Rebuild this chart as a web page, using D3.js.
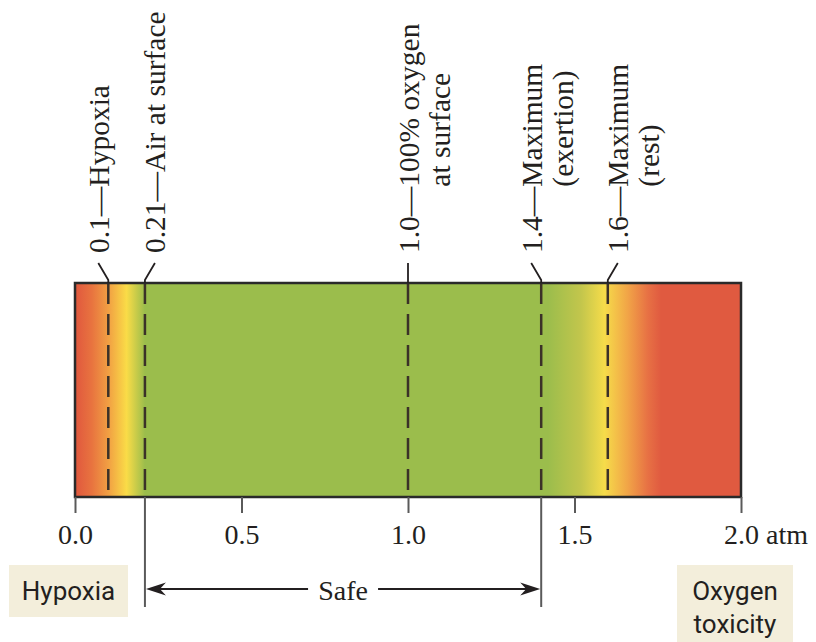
<!DOCTYPE html>
<html>
<head>
<meta charset="utf-8">
<script src="https://cdn.jsdelivr.net/npm/d3@7"></script>
<style>
  html, body { margin: 0; padding: 0; background: #ffffff; }
  svg { display: block; }
</style>
</head>
<body>
<svg id="chart" width="816" height="642"></svg>
<script>
// ---------------- data ----------------
const axisTicks = [0, 0.5, 1.0, 1.5, 2.0];
const axisUnit = "atm";
const markerValues = [0.1, 0.21, 1.0, 1.4, 1.6];
const markerPrefix = ["0.1—", "0.21—", "1.0—", "1.4—", "1.6—"];
const markerLine1 = ["Hypoxia", "Air at surface", "100% oxygen", "Maximum", "Maximum"];
const markerLine2 = ["", "", "at surface", "(exertion)", "(rest)"];
const gradientValues = [0.0, 0.05, 0.10, 0.155, 0.21, 1.42, 1.52, 1.59, 1.66, 1.72, 1.76, 2.0];
const gradientColors = ["#e0573e", "#e8733f", "#f19f43", "#fadc47", "#9bbd4c", "#9bbd4c", "#c3c64c", "#f6dc4a", "#f1a447", "#e77144", "#e05a40", "#e05a40"];
const safeRange = [0.21, 1.4];
const safeLabel = "Safe";
const zoneLeft = ["Hypoxia"];
const zoneRight = ["Oxygen", "toxicity"];

// ---------------- layout ----------------
const svg = d3.select("#chart");
const barTop = 283, barBottom = 497;
const x = d3.scaleLinear().domain([0, 2]).range([75, 741]);
const serif = "'Liberation Serif', 'Times New Roman', serif";
const sans = "Roboto, 'Noto Sans', sans-serif";
const ink = "#231f20";

// gradient
const defs = svg.append("defs");
const grad = defs.append("linearGradient")
  .attr("id", "o2grad")
  .attr("gradientUnits", "userSpaceOnUse")
  .attr("x1", x(0)).attr("x2", x(2)).attr("y1", 0).attr("y2", 0);
grad.selectAll("stop").data(gradientValues).join("stop")
  .attr("offset", d => (x(d) - x(0)) / (x(2) - x(0)))
  .attr("stop-color", (d, i) => gradientColors[i]);

// bar
svg.append("rect")
  .attr("x", x(0)).attr("y", barTop)
  .attr("width", x(2) - x(0)).attr("height", barBottom - barTop)
  .attr("fill", "url(#o2grad)");

// dashed marker lines
svg.append("g").selectAll("line").data(markerValues).join("line")
  .attr("x1", d => x(d)).attr("x2", d => x(d))
  .attr("y1", barTop).attr("y2", barBottom)
  .attr("stroke", "#3b3128").attr("stroke-width", 2.5)
  .attr("stroke-dasharray", "21,10");

// bar border
svg.append("rect")
  .attr("x", x(0)).attr("y", barTop)
  .attr("width", x(2) - x(0)).attr("height", barBottom - barTop)
  .attr("fill", "none").attr("stroke", "#2a2a2a").attr("stroke-width", 2.5);

// leaders and rotated labels
const leaderDir = [-1, 1, 0, -1, 1];
const labelSize = 29.5;
const labelBottom = 253;
const leaderTop = 263;
const g = svg.append("g");
markerValues.forEach((v, i) => {
  const x0 = x(v);
  const xt = x0 + leaderDir[i] * 10;
  g.append("path")
    .attr("d", `M${x0},${barTop} L${x0},${barTop - 3} L${xt},${leaderTop}`)
    .attr("fill", "none").attr("stroke", ink).attr("stroke-width", 1.8);
  const bx = xt + 10.5;
  const t = g.append("text")
    .attr("transform", `translate(${bx},${labelBottom}) rotate(-90)`)
    .attr("font-family", serif).attr("font-size", labelSize).attr("fill", ink);
  t.append("tspan").text(markerPrefix[i]);
  t.append("tspan").text(markerLine1[i]);
  if (markerLine2[i]) {
    // measure prefix width
    const tmp = svg.append("text").attr("font-family", serif).attr("font-size", labelSize).text(markerPrefix[i]);
    const w = tmp.node().getComputedTextLength();
    tmp.remove();
    g.append("text")
      .attr("transform", `translate(${bx + 31},${labelBottom - w}) rotate(-90)`)
      .attr("font-family", serif).attr("font-size", labelSize).attr("fill", ink)
      .text(markerLine2[i]);
  }
});

// axis
const axis = d3.axisBottom(x)
  .tickValues(axisTicks)
  .tickSize(16)
  .tickPadding(11)
  .tickFormat(d3.format(".1f"));
const ax = svg.append("g").attr("transform", `translate(0,${barBottom})`).call(axis);
ax.select(".domain").remove();
ax.selectAll(".tick line").attr("stroke", "#5a5a5a").attr("stroke-width", 2);
ax.selectAll(".tick text")
  .attr("font-family", serif).attr("font-size", 28).attr("fill", ink);
// unit appended to last tick, keeping the number centred on its tick
ax.selectAll(".tick").filter(d => d === axisTicks[axisTicks.length - 1]).select("text")
  .attr("text-anchor", "start").attr("dx", "-0.625em")
  .text(d => d3.format(".1f")(d) + " " + axisUnit);

// safe range bracket
const sx0 = x(safeRange[0]), sx1 = x(safeRange[1]);
const arrowY = 589;
const sg = svg.append("g");
[sx0, sx1].forEach(xx => {
  sg.append("line").attr("x1", xx).attr("x2", xx).attr("y1", barBottom).attr("y2", 607)
    .attr("stroke", "#5a5a5a").attr("stroke-width", 2);
});
const mid = (sx0 + sx1) / 2;
sg.append("line").attr("x1", sx0 + 10).attr("x2", mid - 35).attr("y1", arrowY).attr("y2", arrowY)
  .attr("stroke", ink).attr("stroke-width", 1.8);
sg.append("line").attr("x1", mid + 35).attr("x2", sx1 - 10).attr("y1", arrowY).attr("y2", arrowY)
  .attr("stroke", ink).attr("stroke-width", 1.8);
sg.append("path")
  .attr("d", `M${sx0 + 1},${arrowY} L${sx0 + 21},${arrowY - 6.5} L${sx0 + 15},${arrowY} L${sx0 + 21},${arrowY + 6.5} Z`)
  .attr("fill", ink);
sg.append("path")
  .attr("d", `M${sx1 - 1},${arrowY} L${sx1 - 21},${arrowY - 6.5} L${sx1 - 15},${arrowY} L${sx1 - 21},${arrowY + 6.5} Z`)
  .attr("fill", ink);
sg.append("text").attr("x", mid).attr("y", 600).attr("text-anchor", "middle")
  .attr("font-family", serif).attr("font-size", 28).attr("fill", ink).text(safeLabel);

// zone boxes
const boxFill = "#f3eedb";
svg.append("rect").attr("x", 9).attr("y", 565).attr("width", 119).attr("height", 52).attr("fill", boxFill);
svg.append("text").attr("x", 68.5).attr("y", 600).attr("text-anchor", "middle")
  .attr("font-family", sans).attr("font-size", 26).attr("fill", ink).text(zoneLeft[0]);
svg.append("rect").attr("x", 677).attr("y", 565).attr("width", 116).attr("height", 77).attr("fill", boxFill);
svg.append("text").attr("text-anchor", "middle")
  .attr("font-family", sans).attr("font-size", 26).attr("fill", ink)
  .selectAll("tspan").data(zoneRight).join("tspan")
  .attr("x", 735).attr("y", (d, i) => 600 + i * 33).text(d => d);
</script>
</body>
</html>
